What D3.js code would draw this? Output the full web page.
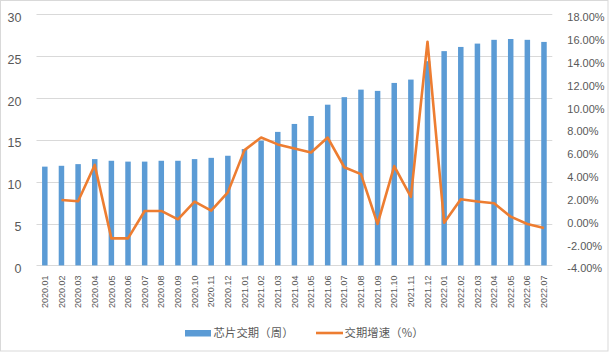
<!DOCTYPE html>
<html>
<head>
<meta charset="utf-8">
<script src="https://cdn.jsdelivr.net/npm/d3@7"></script>
<style>
  body { margin: 0; background: #fff; }
  svg { display: block; font-family: "Liberation Sans", Arial, sans-serif; }
  .legend text { font-family: "Noto Sans CJK SC", sans-serif; }
</style>
</head>
<body>
<div id="chart"></div>
<script>
const categories = ["2020.01","2020.02","2020.03","2020.04","2020.05","2020.06","2020.07","2020.08","2020.09","2020.10","2020.11","2020.12",
  "2021.01","2021.02","2021.03","2021.04","2021.05","2021.06","2021.07","2021.08","2021.09","2021.10","2021.11","2021.12",
  "2022.01","2022.02","2022.03","2022.04","2022.05","2022.06","2022.07"];
// 芯片交期（周）
const leadTime = [11.8,11.9,12.1,12.7,12.5,12.4,12.4,12.5,12.5,12.7,12.85,13.1,
  13.9,14.9,15.95,16.9,17.85,19.2,20.1,21.0,20.85,21.8,22.2,24.4,
  25.6,26.1,26.5,26.95,27.05,26.95,26.7];
// 交期增速（%）
const growth = [null,1.73,1.62,4.8,-1.63,-1.63,0.77,0.77,0.04,1.58,0.8,2.4,
  6.1,7.2,6.6,6.25,5.9,7.2,4.6,4.0,-0.37,4.7,2.0,15.6,
  -0.26,1.8,1.6,1.45,0.27,-0.37,-0.72];
const leftTicks = [0,5,10,15,20,25,30];
const rightTicks = [-4,-2,0,2,4,6,8,10,12,14,16,18];
const seriesNames = ["芯片交期（周）", "交期增速（%）"];

const W = 610, H = 354;
const plot = { left: 36.5, right: 552.3, top: 14.3, bottom: 265.4 };
const grey = "#595959";

const svg = d3.select("#chart").append("svg")
  .attr("width", W).attr("height", H);

// chart border
svg.append("rect")
  .attr("x", 0.5).attr("y", 0.5)
  .attr("width", 607.5).attr("height", 350.5)
  .attr("fill", "#fff").attr("stroke", "#d9d9d9");

const x = d3.scaleBand()
  .domain(categories)
  .range([plot.left, plot.right])
  .paddingInner(0.67)
  .paddingOuter(0.335);

const y = d3.scaleLinear().domain([0, 30]).range([plot.bottom, plot.top]);
const y2 = d3.scaleLinear().domain([-4, 18]).range([plot.bottom, plot.top]);

// gridlines
svg.append("g")
  .selectAll("line")
  .data(leftTicks)
  .join("line")
  .attr("x1", plot.left).attr("x2", plot.right)
  .attr("y1", d => Math.round(y(d)) + 0.5)
  .attr("y2", d => Math.round(y(d)) + 0.5)
  .attr("stroke", "#d9d9d9").attr("stroke-width", 1);

// left axis
const yAxisGroup = svg.append("g")
  .attr("transform", `translate(${plot.left - 15}, 0)`)
  .call(d3.axisLeft(y).tickValues(leftTicks).tickSize(0).tickPadding(0));
yAxisGroup.select(".domain").remove();
yAxisGroup.selectAll("text")
  .attr("fill", grey).attr("font-size", 12.5).attr("dy", "0.32em")
  .attr("transform", "translate(0,3)");

// right axis
const y2AxisGroup = svg.append("g")
  .attr("transform", `translate(${plot.right + 15}, 0)`)
  .call(d3.axisRight(y2).tickValues(rightTicks).tickSize(0).tickPadding(0)
    .tickFormat(d => d.toFixed(2) + "%"));
y2AxisGroup.select(".domain").remove();
y2AxisGroup.selectAll("text")
  .attr("fill", grey).attr("font-size", 11).attr("dy", "0.32em")
  .attr("transform", "translate(0,3)");

// x axis
const xAxisGroup = svg.append("g")
  .attr("transform", `translate(0, ${plot.bottom})`)
  .call(d3.axisBottom(x).tickSize(0).tickPadding(0));
xAxisGroup.select(".domain").remove();
xAxisGroup.selectAll("text")
  .attr("fill", grey).attr("font-size", 9)
  .attr("text-anchor", "end")
  .attr("dy", "0.35em")
  .attr("transform", "translate(0,10) rotate(-90)")
  .attr("x", 0).attr("y", 0);

// bars
svg.append("g")
  .selectAll("rect")
  .data(leadTime)
  .join("rect")
  .attr("x", (d, i) => x(categories[i]))
  .attr("width", x.bandwidth())
  .attr("y", d => y(d))
  .attr("height", d => plot.bottom - y(d))
  .attr("fill", "#5b9bd5");

// growth line
const line = d3.line()
  .defined(d => d != null)
  .x((d, i) => x(categories[i]) + x.bandwidth() / 2)
  .y(d => y2(d));

svg.append("path")
  .datum(growth)
  .attr("d", line)
  .attr("fill", "none")
  .attr("stroke", "#ed7d31")
  .attr("stroke-width", 2.6)
  .attr("stroke-linejoin", "round");

// legend
const legend = svg.append("g").attr("class", "legend");
legend.append("rect")
  .attr("x", 185).attr("y", 330).attr("width", 26).attr("height", 6.5)
  .attr("fill", "#5b9bd5");
legend.append("text")
  .attr("x", 213.5).attr("y", 333).attr("dy", "0.35em")
  .attr("font-size", 11.3).attr("fill", grey)
  .attr("textLength", 80).attr("lengthAdjust", "spacing")
  .text(seriesNames[0]);
legend.append("line")
  .attr("x1", 316).attr("x2", 343).attr("y1", 333).attr("y2", 333)
  .attr("stroke", "#ed7d31").attr("stroke-width", 2.6);
legend.append("text")
  .attr("x", 344.5).attr("y", 333).attr("dy", "0.35em")
  .attr("font-size", 11.3).attr("fill", grey)
  .attr("textLength", 79).attr("lengthAdjust", "spacing")
  .text(seriesNames[1]);
</script>
</body>
</html>
